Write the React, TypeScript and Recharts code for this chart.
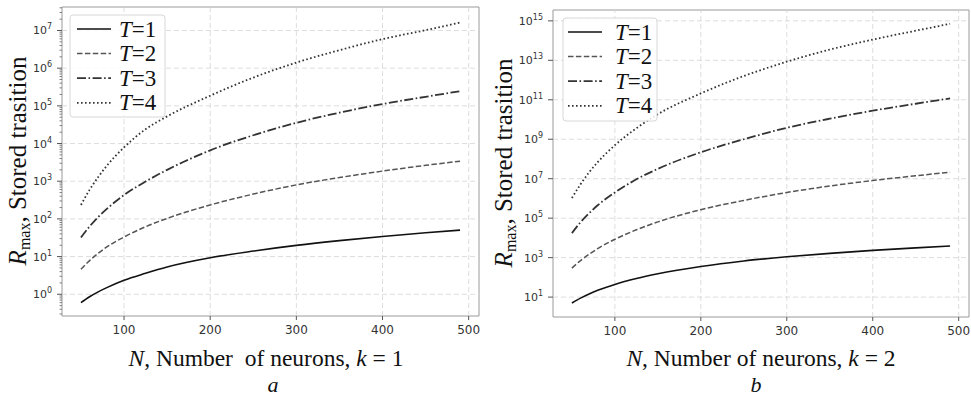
import React from "react";
import {
  LineChart,
  Line,
  XAxis,
  YAxis,
  ReferenceLine,
  ReferenceArea,
} from "recharts";

// Network size N (x axis)
const N_VALUES = [50, 60, 70, 80, 100, 125, 150, 200, 250, 300, 350, 400, 450, 490];

// Stored transitions R_max, k = 1
const K1_T1 = [0.6, 0.86, 1.16, 1.5, 2.35, 3.6, 5.3, 9.3, 14, 19.8, 26.5, 34.2, 42.8, 50.3];
const K1_T2 = [4.6, 7.8, 12.2, 18, 33, 62, 103, 235, 455, 800, 1250, 1860, 2640, 3400];
const K1_T3 = [32, 63, 112, 184, 430, 980, 2000, 6600, 16600, 35500, 66000, 112000, 174000, 245000];
const K1_T4 = [234, 590, 1290, 2570, 7900, 24000, 52500, 186000, 562000, 1.41e6, 3.0e6, 5.9e6, 1.02e7, 1.62e7];

// Stored transitions R_max, k = 2
const K2_T1 = [5, 8.9, 14.5, 22, 44, 87, 151, 355, 676, 1100, 1650, 2330, 3120, 3880];
const K2_T2 = [295, 710, 1480, 2880, 8500, 25700, 64600, 269000, 794000, 2.0e6, 4.27e6, 8.1e6, 1.41e7, 2.14e7];
const K2_T3 = [1.74e4, 6.2e4, 1.78e5, 4.5e5, 2.0e6, 9.3e6, 3.16e7, 2.19e8, 1.0e9, 3.8e9, 1.1e10, 2.8e10, 6.3e10, 1.17e11];
const K2_T4 = [1.05e6, 5.2e6, 2.1e7, 6.9e7, 5.0e8, 3.6e9, 1.86e10, 2.1e11, 1.6e12, 8.5e12, 3.5e13, 1.12e14, 3.16e14, 7.1e14];

const X_TICKS = [100, 200, 300, 400, 500];
const X_DOMAIN: [number, number] = [28, 512];

const K1_Y_MAJOR = [1, 10, 1e2, 1e3, 1e4, 1e5, 1e6, 1e7];
const K2_Y_MAJOR = [10, 1e3, 1e5, 1e7, 1e9, 1e11, 1e13, 1e15];

const T_LABELS = ["1", "2", "3", "4"];
const PANEL_LETTERS = ["a", "b"];
const K_LABELS = ["1", "2"];

const SERIES = [
  { key: "t1", color: "#111", width: 1.6, dash: undefined as string | undefined },
  { key: "t2", color: "#555", width: 1.5, dash: "5.5 2.4" },
  { key: "t3", color: "#333", width: 1.8, dash: "9 2.5 1.6 2.5" },
  { key: "t4", color: "#333", width: 1.8, dash: "1.6 2.4" },
];

const TICK_FONT = "'DejaVu Sans', sans-serif";
const LABEL_FONT = "'Liberation Serif', 'Times New Roman', serif";
const GRID = "#d4d4d4";
const FRAME = "#9a9a9a";

function buildRows(t1: number[], t2: number[], t3: number[], t4: number[]) {
  return N_VALUES.map((n, i) => ({ n, t1: t1[i], t2: t2[i], t3: t3[i], t4: t4[i] }));
}

// minor log ticks (2..9 x 10^k) inside the domain
function minorTicks(lo: number, hi: number) {
  const out: number[] = [];
  for (let e = Math.floor(Math.log10(lo)); e <= Math.ceil(Math.log10(hi)); e++) {
    for (let m = 2; m <= 9; m++) {
      const v = m * Math.pow(10, e);
      if (v >= lo && v <= hi) out.push(v);
    }
  }
  return out;
}

function LogTick(props: any) {
  const { x, y, payload, major } = props;
  const v = payload.value as number;
  const isMajor = major.includes(v);
  const exp = Math.round(Math.log10(v));
  if (!isMajor) {
    return <line x1={x - 2.5} x2={x} y1={y} y2={y} stroke="#666" strokeWidth={0.8} />;
  }
  return (
    <g>
      <line x1={x - 5} x2={x} y1={y} y2={y} stroke="#555" strokeWidth={1} />
      <text
        x={x - 10}
        y={y + 4}
        textAnchor="end"
        fontFamily={TICK_FONT}
        fontSize={11}
        fill="#333"
      >
        10
        <tspan dy={-5} fontSize={8}>
          {String(exp)}
        </tspan>
      </text>
    </g>
  );
}

interface PanelProps {
  rows: ReturnType<typeof buildRows>;
  left: number;
  width: number;
  margin: { top: number; right: number; bottom: number; left: number };
  yDomain: [number, number];
  yMajor: number[];
  withMinor: boolean;
}

function Panel({ rows, left, width, margin, yDomain, yMajor, withMinor }: PanelProps) {
  const yTicks = withMinor
    ? [...yMajor, ...minorTicks(yDomain[0], yDomain[1])].sort((a, b) => a - b)
    : yMajor;
  return (
    <div style={{ position: "absolute", left, top: 0 }}>
      <LineChart width={width} height={401} data={rows} margin={margin}>
        {X_TICKS.map((t) => (
          <ReferenceLine key={"gx" + t} x={t} stroke={GRID} strokeDasharray="5 3" strokeWidth={0.8} />
        ))}
        {yMajor.map((t) => (
          <ReferenceLine key={"gy" + t} y={t} stroke={GRID} strokeDasharray="5 3" strokeWidth={0.8} />
        ))}
        <XAxis
          dataKey="n"
          type="number"
          domain={X_DOMAIN}
          allowDataOverflow
          ticks={X_TICKS}
          interval={0}
          height={30}
          axisLine={false}
          tickSize={4}
          tickMargin={5}
          tickLine={{ stroke: "#555" }}
          tick={{ fontFamily: TICK_FONT, fontSize: 12, fill: "#333" }}
        />
        <YAxis
          type="number"
          scale="log"
          domain={yDomain}
          allowDataOverflow
          ticks={yTicks}
          interval={0}
          width={45}
          axisLine={false}
          tickLine={false}
          tickSize={0}
          tickMargin={0}
          tick={(p: any) => <LogTick {...p} major={yMajor} />}
        />
        {SERIES.map((s) => (
          <Line
            key={s.key}
            dataKey={s.key}
            type="monotone"
            stroke={s.color}
            strokeWidth={s.width}
            strokeDasharray={s.dash}
            dot={false}
            isAnimationActive={false}
          />
        ))}
        <ReferenceArea
          x1={X_DOMAIN[0]}
          x2={X_DOMAIN[1]}
          y1={yDomain[0]}
          y2={yDomain[1]}
          fill="none"
          fillOpacity={0}
          stroke={FRAME}
          strokeWidth={1}
        />
      </LineChart>
    </div>
  );
}

function LegendBox({ x, y, w, h, sampleX, textX, rowY }: any) {
  return (
    <g>
      <rect x={x} y={y} width={w} height={h} rx={3} fill="#fff" fillOpacity={0.85} stroke="#d8d8d8" />
      {SERIES.map((s, i) => (
        <g key={s.key}>
          <line
            x1={sampleX}
            x2={sampleX + 34}
            y1={rowY + i * 24.6}
            y2={rowY + i * 24.6}
            stroke={s.color}
            strokeWidth={s.width}
            strokeDasharray={s.dash}
          />
          <text x={textX} y={rowY + i * 24.6 + 7.5} fontFamily={LABEL_FONT} fontSize={23} fill="#111">
            <tspan fontStyle="italic">T</tspan>={T_LABELS[i]}
          </text>
        </g>
      ))}
    </g>
  );
}

function YTitle({ x, y }: { x: number; y: number }) {
  return (
    <text
      transform={`translate(${x},${y}) rotate(-90)`}
      textAnchor="middle"
      fontFamily={LABEL_FONT}
      fontSize={25}
      fill="#111"
    >
      <tspan fontStyle="italic">R</tspan>
      <tspan fontSize={16} dy={4}>max</tspan>
      <tspan dy={-4}>, Stored trasition</tspan>
    </text>
  );
}

function XTitle({ cx, k, gap }: { cx: number; k: string; gap: string }) {
  return (
    <text x={cx} y={366} textAnchor="middle" fontFamily={LABEL_FONT} fontSize={23.5} fill="#111" xmlSpace="preserve">
      <tspan fontStyle="italic">N</tspan>, Number{gap}of neurons, <tspan fontStyle="italic">k</tspan> = {k}
    </text>
  );
}

export default function App() {
  const rows1 = buildRows(K1_T1, K1_T2, K1_T3, K1_T4);
  const rows2 = buildRows(K2_T1, K2_T2, K2_T3, K2_T4);
  return (
    <div style={{ position: "absolute", left: 0, top: 0, width: 971, height: 401, background: "#fff" }}>
      <Panel
        rows={rows1}
        left={0}
        width={485}
        margin={{ top: 7, right: 6, bottom: 55, left: 17 }}
        yDomain={[0.265, 4.2e7]}
        yMajor={K1_Y_MAJOR}
        withMinor
      />
      <Panel
        rows={rows2}
        left={490}
        width={481}
        margin={{ top: 10, right: 2, bottom: 54, left: 18 }}
        yDomain={[0.98, 3.55e15]}
        yMajor={K2_Y_MAJOR}
        withMinor={false}
      />
      <svg width={971} height={401} style={{ position: "absolute", left: 0, top: 0, pointerEvents: "none" }}>
        <LegendBox x={70} y={15} w={95} h={102} sampleX={77} textX={119} rowY={29} />
        <LegendBox x={563} y={18} w={94} h={103} sampleX={568} textX={615} rowY={32} />
        <YTitle x={26} y={161} />
        <YTitle x={512} y={163} />
        <XTitle cx={266} k={K_LABELS[0]} gap="  " />
        <XTitle cx={761} k={K_LABELS[1]} gap=" " />
        <text x={273} y={392} textAnchor="middle" fontFamily={LABEL_FONT} fontSize={22} fontStyle="italic" fill="#111">
          {PANEL_LETTERS[0]}
        </text>
        <text x={756} y={392} textAnchor="middle" fontFamily={LABEL_FONT} fontSize={22} fontStyle="italic" fill="#111">
          {PANEL_LETTERS[1]}
        </text>
      </svg>
    </div>
  );
}
